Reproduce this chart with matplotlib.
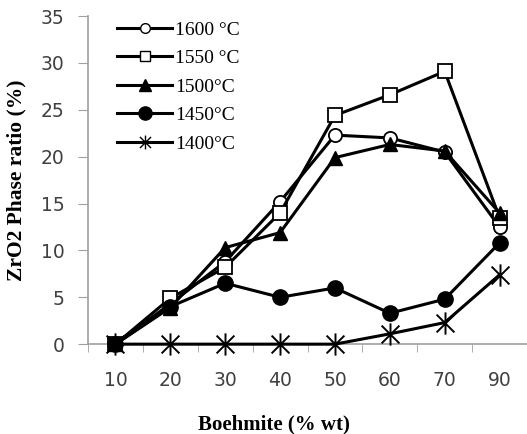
import matplotlib
matplotlib.use("Agg")
import matplotlib.pyplot as plt
from matplotlib.ticker import FixedLocator
from matplotlib.path import Path
from matplotlib.lines import Line2D

categories = ["10", "20", "30", "40", "50", "60", "70", "90"]
s1600 = [0, 4.3, 8.8, 15.2, 22.3, 22.0, 20.5, 12.5]
s1550 = [0, 4.9, 8.2, 14.0, 24.4, 26.6, 29.1, 13.5]
s1500 = [0, 3.9, 10.3, 11.9, 19.9, 21.3, 20.6, 14.0]
s1450 = [0, 4.0, 6.5, 5.0, 6.0, 3.3, 4.8, 10.8]
s1400 = [0, 0, 0, 0, 0, 1.1, 2.3, 7.4]
labels = ["1600 \u00b0C", "1550 \u00b0C", "1500\u00b0C", "1450\u00b0C", "1400\u00b0C"]

star = Path([(0, -1), (0, 1), (-0.8, -0.8), (0.8, 0.8), (-0.8, 0.8), (0.8, -0.8)],
            [Path.MOVETO, Path.LINETO, Path.MOVETO, Path.LINETO, Path.MOVETO, Path.LINETO])

fig = plt.figure(figsize=(5.27, 4.34), dpi=100)
ax = fig.add_axes([0.167, 0.207, 0.833, 0.756])
x = list(range(len(categories)))
lw = 2.2
styles = [
    dict(marker="o", ms=9.5, mfc="white", mec="black", mew=1.3),
    dict(marker="s", ms=9.5, mfc="white", mec="black", mew=1.3),
    dict(marker="^", ms=10.5, mfc="black", mec="black"),
    dict(marker="o", ms=11, mfc="black", mec="black"),
    dict(marker=star, ms=16, mew=1.4, mec="black"),
]
series = [s1600, s1550, s1500, s1450, s1400]
for ys, st, lab in zip(series, styles, labels):
    ax.plot(x, ys, color="black", lw=lw, label=lab, clip_on=False, zorder=3, **st)

leg_ms = [7, 7.5, 8.5, 9.5, 10]
handles = []
for st, lab, m in zip(styles, labels, leg_ms):
    st2 = dict(st)
    st2["ms"] = m
    if "mew" in st2:
        st2["mew"] = 1.0
    handles.append(Line2D([], [], color="black", lw=lw, label=lab, **st2))

ax.set_xlim(-0.5, len(categories) - 0.5)
ax.set_ylim(0, 35)
ax.set_yticks(range(0, 36, 5))
ax.set_xticks(x)
ax.set_xticklabels(categories)
ax.xaxis.set_minor_locator(FixedLocator([i - 0.5 for i in range(len(categories) + 1)]))
ax.tick_params(axis="x", which="major", length=0, pad=19, labelsize=13.5, colors="#404040")
ax.tick_params(axis="x", which="minor", length=6, color="#a0a0a0", direction="out")
ax.tick_params(axis="y", length=7, color="#a0a0a0", labelsize=13.5, colors="#404040", pad=10)
for lab in ax.get_xticklabels() + ax.get_yticklabels():
    lab.set_family("DejaVu Sans")
for s in ["top", "right"]:
    ax.spines[s].set_visible(False)
for s in ["left", "bottom"]:
    ax.spines[s].set_color("#a0a0a0")
    ax.spines[s].set_linewidth(1.2)
    ax.spines[s].set_zorder(1)

ax.set_xlabel("Boehmite (% wt)", family="Liberation Serif", fontweight="bold", fontsize=15)
ax.set_ylabel("ZrO2 Phase ratio (%)", family="Liberation Serif", fontweight="bold", fontsize=15.5)
ax.xaxis.label.set_va("center")
ax.xaxis.label.set_ha("center")
ax.yaxis.label.set_va("center")
ax.yaxis.label.set_ha("center")
ax.xaxis.set_label_coords(0.424, -0.244)
ax.yaxis.set_label_coords(-0.162, 0.5)

ax.legend(handles=handles, loc="upper left", bbox_to_anchor=(0.066, 0.985), frameon=False,
          prop={"family": "Liberation Serif", "size": 14}, handlelength=2.85,
          handletextpad=0.15, labelspacing=0.56, borderaxespad=0, borderpad=0)

fig.savefig("out.png", dpi=100)
